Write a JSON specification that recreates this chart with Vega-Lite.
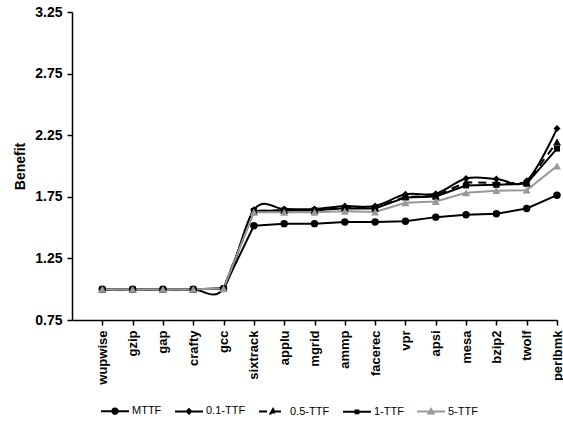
{
  "$schema": "https://vega.github.io/schema/vega-lite/v6.json",
  "width": 485,
  "height": 308,
  "autosize": {"type": "none"},
  "padding": {"left": 72, "top": 12, "right": 6, "bottom": 105},
  "background": "white",
  "data": {
    "values": [
      {"bench": "wupwise", "series": "MTTF", "benefit": 1.0},
      {"bench": "gzip", "series": "MTTF", "benefit": 1.0},
      {"bench": "gap", "series": "MTTF", "benefit": 1.0},
      {"bench": "crafty", "series": "MTTF", "benefit": 1.0},
      {"bench": "gcc", "series": "MTTF", "benefit": 1.005},
      {"bench": "sixtrack", "series": "MTTF", "benefit": 1.515},
      {"bench": "applu", "series": "MTTF", "benefit": 1.532},
      {"bench": "mgrid", "series": "MTTF", "benefit": 1.532},
      {"bench": "ammp", "series": "MTTF", "benefit": 1.545},
      {"bench": "facerec", "series": "MTTF", "benefit": 1.545},
      {"bench": "vpr", "series": "MTTF", "benefit": 1.552},
      {"bench": "apsi", "series": "MTTF", "benefit": 1.585},
      {"bench": "mesa", "series": "MTTF", "benefit": 1.604},
      {"bench": "bzip2", "series": "MTTF", "benefit": 1.612},
      {"bench": "twolf", "series": "MTTF", "benefit": 1.655},
      {"bench": "perlbmk", "series": "MTTF", "benefit": 1.763},

      {"bench": "wupwise", "series": "0.1-TTF", "benefit": 1.0},
      {"bench": "gzip", "series": "0.1-TTF", "benefit": 1.0},
      {"bench": "gap", "series": "0.1-TTF", "benefit": 1.0},
      {"bench": "crafty", "series": "0.1-TTF", "benefit": 1.0},
      {"bench": "gcc", "series": "0.1-TTF", "benefit": 1.005},
      {"bench": "sixtrack", "series": "0.1-TTF", "benefit": 1.645},
      {"bench": "applu", "series": "0.1-TTF", "benefit": 1.65},
      {"bench": "mgrid", "series": "0.1-TTF", "benefit": 1.65},
      {"bench": "ammp", "series": "0.1-TTF", "benefit": 1.675},
      {"bench": "facerec", "series": "0.1-TTF", "benefit": 1.675},
      {"bench": "vpr", "series": "0.1-TTF", "benefit": 1.77},
      {"bench": "apsi", "series": "0.1-TTF", "benefit": 1.775},
      {"bench": "mesa", "series": "0.1-TTF", "benefit": 1.898},
      {"bench": "bzip2", "series": "0.1-TTF", "benefit": 1.895},
      {"bench": "twolf", "series": "0.1-TTF", "benefit": 1.88},
      {"bench": "perlbmk", "series": "0.1-TTF", "benefit": 2.304},

      {"bench": "wupwise", "series": "0.5-TTF", "benefit": 1.0},
      {"bench": "gzip", "series": "0.5-TTF", "benefit": 1.0},
      {"bench": "gap", "series": "0.5-TTF", "benefit": 1.0},
      {"bench": "crafty", "series": "0.5-TTF", "benefit": 1.0},
      {"bench": "gcc", "series": "0.5-TTF", "benefit": 1.005},
      {"bench": "sixtrack", "series": "0.5-TTF", "benefit": 1.635},
      {"bench": "applu", "series": "0.5-TTF", "benefit": 1.64},
      {"bench": "mgrid", "series": "0.5-TTF", "benefit": 1.64},
      {"bench": "ammp", "series": "0.5-TTF", "benefit": 1.66},
      {"bench": "facerec", "series": "0.5-TTF", "benefit": 1.66},
      {"bench": "vpr", "series": "0.5-TTF", "benefit": 1.75},
      {"bench": "apsi", "series": "0.5-TTF", "benefit": 1.757},
      {"bench": "mesa", "series": "0.5-TTF", "benefit": 1.868},
      {"bench": "bzip2", "series": "0.5-TTF", "benefit": 1.863},
      {"bench": "twolf", "series": "0.5-TTF", "benefit": 1.863},
      {"bench": "perlbmk", "series": "0.5-TTF", "benefit": 2.195},

      {"bench": "wupwise", "series": "1-TTF", "benefit": 1.0},
      {"bench": "gzip", "series": "1-TTF", "benefit": 1.0},
      {"bench": "gap", "series": "1-TTF", "benefit": 1.0},
      {"bench": "crafty", "series": "1-TTF", "benefit": 1.0},
      {"bench": "gcc", "series": "1-TTF", "benefit": 1.005},
      {"bench": "sixtrack", "series": "1-TTF", "benefit": 1.635},
      {"bench": "applu", "series": "1-TTF", "benefit": 1.638},
      {"bench": "mgrid", "series": "1-TTF", "benefit": 1.64},
      {"bench": "ammp", "series": "1-TTF", "benefit": 1.658},
      {"bench": "facerec", "series": "1-TTF", "benefit": 1.655},
      {"bench": "vpr", "series": "1-TTF", "benefit": 1.745},
      {"bench": "apsi", "series": "1-TTF", "benefit": 1.752},
      {"bench": "mesa", "series": "1-TTF", "benefit": 1.842},
      {"bench": "bzip2", "series": "1-TTF", "benefit": 1.847},
      {"bench": "twolf", "series": "1-TTF", "benefit": 1.857},
      {"bench": "perlbmk", "series": "1-TTF", "benefit": 2.141},

      {"bench": "wupwise", "series": "5-TTF", "benefit": 1.0},
      {"bench": "gzip", "series": "5-TTF", "benefit": 1.0},
      {"bench": "gap", "series": "5-TTF", "benefit": 1.0},
      {"bench": "crafty", "series": "5-TTF", "benefit": 1.0},
      {"bench": "gcc", "series": "5-TTF", "benefit": 1.005},
      {"bench": "sixtrack", "series": "5-TTF", "benefit": 1.625},
      {"bench": "applu", "series": "5-TTF", "benefit": 1.625},
      {"bench": "mgrid", "series": "5-TTF", "benefit": 1.625},
      {"bench": "ammp", "series": "5-TTF", "benefit": 1.633},
      {"bench": "facerec", "series": "5-TTF", "benefit": 1.627},
      {"bench": "vpr", "series": "5-TTF", "benefit": 1.701},
      {"bench": "apsi", "series": "5-TTF", "benefit": 1.712},
      {"bench": "mesa", "series": "5-TTF", "benefit": 1.783},
      {"bench": "bzip2", "series": "5-TTF", "benefit": 1.8},
      {"bench": "twolf", "series": "5-TTF", "benefit": 1.804},
      {"bench": "perlbmk", "series": "5-TTF", "benefit": 2.0}
    ]
  },
  "encoding": {
    "x": {
      "field": "bench",
      "type": "nominal",
      "scale": {
        "type": "point",
        "padding": 0.5,
        "align": 1,
        "domain": ["wupwise", "gzip", "gap", "crafty", "gcc", "sixtrack", "applu", "mgrid", "ammp", "facerec", "vpr", "apsi", "mesa", "bzip2", "twolf", "perlbmk"]
      },
      "axis": {
        "title": null,
        "labelAngle": -90,
        "labelAlign": "right",
        "labelBaseline": "middle",
        "labelFontSize": 13,
        "labelPadding": 5
      }
    },
    "y": {
      "field": "benefit",
      "type": "quantitative",
      "scale": {"domain": [0.75, 3.25], "nice": false, "zero": false},
      "axis": {
        "title": "Benefit",
        "values": [0.75, 1.25, 1.75, 2.25, 2.75, 3.25],
        "format": ".2f",
        "labelFontSize": 14,
        "labelPadding": 5,
        "titleFontSize": 14,
        "titlePadding": 7
      }
    }
  },
  "layer": [
    {
      "transform": [{"filter": "datum.series === 'MTTF'"}],
      "mark": {"type": "line", "strokeWidth": 2, "color": "black"}
    },
    {
      "transform": [{"filter": "datum.series === '0.1-TTF'"}],
      "mark": {"type": "line", "strokeWidth": 2, "color": "black", "interpolate": "cardinal"}
    },
    {
      "transform": [{"filter": "datum.series === '0.5-TTF'"}],
      "mark": {"type": "line", "strokeWidth": 2, "color": "black", "strokeDash": [8, 6]}
    },
    {
      "transform": [{"filter": "datum.series === '1-TTF'"}],
      "mark": {"type": "line", "strokeWidth": 2, "color": "black"}
    },
    {
      "transform": [{"filter": "datum.series === '5-TTF'"}],
      "mark": {"type": "line", "strokeWidth": 2, "color": "#999999"}
    },
    {
      "transform": [{"filter": "datum.series === 'MTTF'"}],
      "mark": {"type": "point", "shape": "circle", "filled": true, "opacity": 1, "size": 55, "color": "black"}
    },
    {
      "transform": [{"filter": "datum.series === '0.1-TTF'"}],
      "mark": {"type": "point", "shape": "diamond", "filled": true, "opacity": 1, "size": 49, "color": "black"}
    },
    {
      "transform": [{"filter": "datum.series === '0.5-TTF'"}],
      "mark": {"type": "point", "shape": "triangle-up", "filled": true, "opacity": 1, "size": 64, "color": "black"}
    },
    {
      "transform": [{"filter": "datum.series === '1-TTF'"}],
      "mark": {"type": "point", "shape": "square", "filled": true, "opacity": 1, "size": 36, "color": "black"}
    },
    {
      "transform": [{"filter": "datum.series === '5-TTF'"}],
      "mark": {"type": "point", "shape": "triangle-up", "filled": true, "opacity": 1, "size": 64, "color": "#999999"}
    },
    {
      "description": "Key entries: each symbol is a short line with its marker on it.",
      "mark": {"type": "point", "filled": true, "opacity": 0},
      "encoding": {
        "shape": {
          "field": "series",
          "type": "nominal",
          "scale": {
            "domain": ["MTTF", "0.1-TTF", "0.5-TTF", "1-TTF", "5-TTF"],
            "range": [
              "M-1,0H1M-0.19,0A0.19,0.19 0 1,1 0.19,0A0.19,0.19 0 1,1 -0.19,0Z",
              "M-1,0H1M-0.16,0L0,-0.16L0.16,0L0,0.16Z",
              "M-1,0H1M-0.18,0.13L0,-0.18L0.18,0.13Z",
              "M-1,0H1M-0.1,-0.1H0.1V0.1H-0.1Z",
              "M-1,0H1M-0.18,0.13L0,-0.18L0.18,0.13Z"
            ]
          },
          "legend": {"title": null, "orient": "none", "direction": "horizontal", "legendX": 28, "legendY": 384}
        },
        "color": {
          "field": "series",
          "type": "nominal",
          "scale": {
            "domain": ["MTTF", "0.1-TTF", "0.5-TTF", "1-TTF", "5-TTF"],
            "range": ["black", "black", "black", "black", "#999999"]
          },
          "legend": {"title": null, "orient": "none", "direction": "horizontal", "legendX": 28, "legendY": 384}
        },
        "stroke": {
          "field": "series",
          "type": "nominal",
          "scale": {
            "domain": ["MTTF", "0.1-TTF", "0.5-TTF", "1-TTF", "5-TTF"],
            "range": ["black", "black", "black", "black", "#999999"]
          },
          "legend": {"title": null, "orient": "none", "direction": "horizontal", "legendX": 28, "legendY": 384}
        },
        "strokeDash": {
          "field": "series",
          "type": "nominal",
          "scale": {
            "domain": ["MTTF", "0.1-TTF", "0.5-TTF", "1-TTF", "5-TTF"],
            "range": [[1, 0], [1, 0], [8, 6], [1, 0], [1, 0]]
          },
          "legend": {"title": null, "orient": "none", "direction": "horizontal", "legendX": 28, "legendY": 384}
        }
      }
    }
  ],
  "config": {
    "view": {"stroke": null},
    "font": "Liberation Sans",
    "axis": {
      "grid": false,
      "domainColor": "black",
      "domainWidth": 1.5,
      "tickColor": "black",
      "tickWidth": 1.5,
      "tickSize": 5,
      "labelColor": "black",
      "labelFont": "Liberation Sans",
      "labelFontWeight": "bold",
      "titleFont": "Liberation Sans",
      "titleFontWeight": "bold",
      "titleColor": "black"
    },
    "legend": {
      "symbolOpacity": 1,
      "symbolSize": 784,
      "symbolStrokeWidth": 2,
      "labelFont": "Liberation Sans",
      "labelFontSize": 11,
      "labelColor": "black",
      "labelOffset": 2,
      "columnPadding": 9
    }
  }
}
